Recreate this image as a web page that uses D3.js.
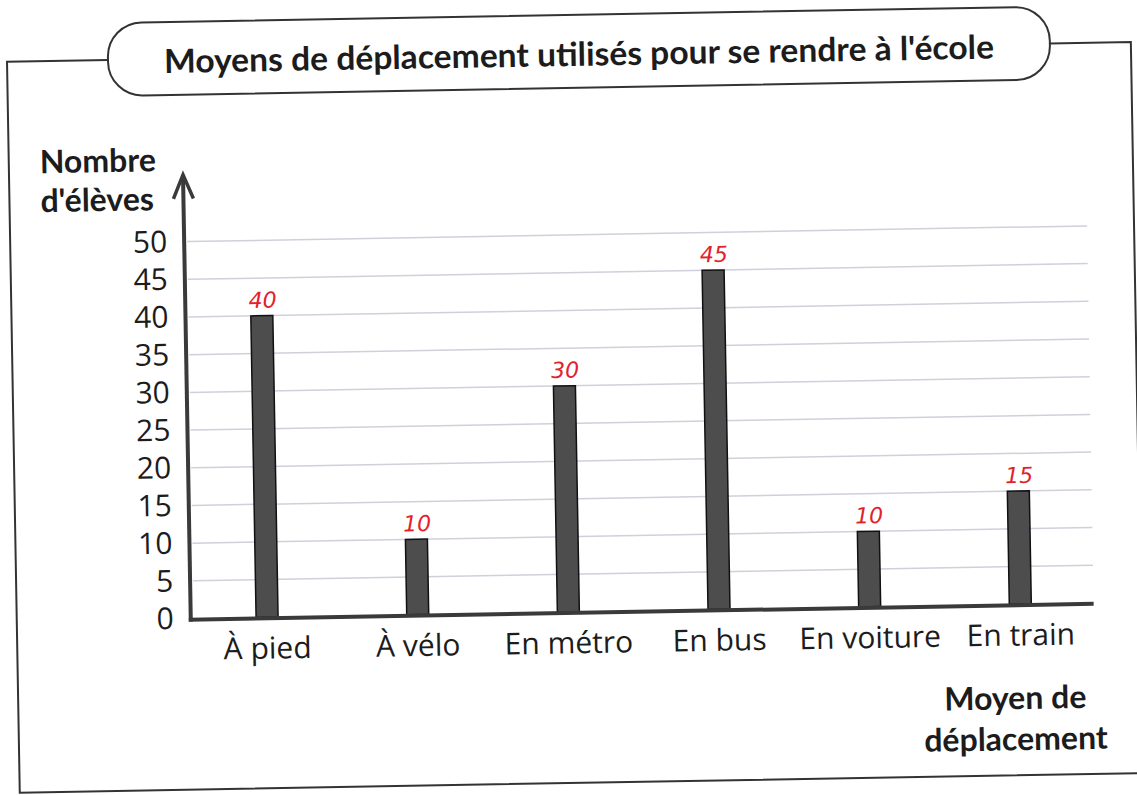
<!DOCTYPE html>
<html lang="fr">
<head>
<meta charset="utf-8">
<title>Moyens de déplacement</title>
<script src="https://d3js.org/d3.v7.min.js"></script>
<style>
  html, body { margin: 0; padding: 0; background: #fff; }
  svg { display: block; }
</style>
</head>
<body>
<div id="chart"></div>
<script>
// data
const categories = ["À pied", "À vélo", "En métro", "En bus", "En voiture", "En train"];
const values = [40, 10, 30, 45, 10, 15];
const yTicks = [0, 5, 10, 15, 20, 25, 30, 35, 40, 45, 50];
const title = "Moyens de déplacement utilisés pour se rendre à l'école";
const yTitle = ["Nombre", "d'élèves"];
const xTitle = ["Moyen de", "déplacement"];

const W = 1137, H = 795;
const ink = "#1c1c1c";

const svg = d3.select("#chart").append("svg")
    .attr("width", W).attr("height", H);

// the scan is tilted by about one degree
const g = svg.append("g").attr("transform", "rotate(-1, 568, 400)");

// outer frame + title box
const frame = g.append("g").attr("fill", "none").attr("stroke", "#333").attr("stroke-width", 2);
frame.append("path").attr("d", "M114,52 H13 V783 H1150");
frame.append("path").attr("d", "M1056,52 H1137 V800");
frame.append("rect")
    .attr("x", 114).attr("y", 15).attr("width", 942).attr("height", 73)
    .attr("rx", 34).attr("ry", 34);

// title, squeezed a bit like the condensed print font
g.append("text")
    .attr("x", 585).attr("y", 66)
    .attr("text-anchor", "middle")
    .attr("font-family", "Lato, 'Open Sans', sans-serif")
    .attr("font-weight", "bold")
    .attr("font-size", 33)
    .attr("textLength", 830)
    .attr("lengthAdjust", "spacingAndGlyphs")
    .attr("fill", ink)
    .text(title);

// scales
const x = d3.scaleBand().domain(categories).range([188, 1092]);
const y = d3.scaleLinear().domain([0, 50]).range([612, 235]);
const barW = 22;

// grid lines
g.append("g").selectAll("line")
  .data(yTicks.filter(d => d > 0))
  .join("line")
    .attr("x1", 190).attr("x2", 1090)
    .attr("y1", d => y(d)).attr("y2", d => y(d))
    .attr("stroke", "#cfd0dc").attr("stroke-width", 1.5);

// y axis tick labels
const yAxis = g.append("g")
    .attr("transform", "translate(187,0)")
    .call(d3.axisLeft(y).tickValues(yTicks).tickSize(0).tickPadding(17));
yAxis.select(".domain").remove();
yAxis.selectAll("text")
    .attr("font-family", "'Open Sans', sans-serif")
    .attr("font-size", 30)
    .attr("fill", ink);

// bars
g.append("g").selectAll("rect")
  .data(values)
  .join("rect")
    .attr("x", (d, i) => x(categories[i]) + x.bandwidth() / 2 - barW / 2)
    .attr("y", d => y(d))
    .attr("width", barW)
    .attr("height", d => y(0) - y(d))
    .attr("fill", "#4d4d4d")
    .attr("stroke", "#111")
    .attr("stroke-width", 1.5);

// handwritten values in red
g.append("g").selectAll("text")
  .data(values)
  .join("text")
    .attr("x", (d, i) => x(categories[i]) + x.bandwidth() / 2 + 1)
    .attr("y", d => y(d) - 8)
    .attr("text-anchor", "middle")
    .attr("font-family", "'DejaVu Sans', sans-serif")
    .attr("font-style", "italic")
    .attr("font-size", 22)
    .attr("fill", "#e3212b")
    .text(d => d);

// axes lines
const axisCol = "#3a3a3a";
g.append("line")
    .attr("x1", 185).attr("x2", 1090)
    .attr("y1", y(0) + 1).attr("y2", y(0) + 1)
    .attr("stroke", axisCol).attr("stroke-width", 4);
g.append("line")
    .attr("x1", 187).attr("x2", 187)
    .attr("y1", y(0) + 3).attr("y2", 168)
    .attr("stroke", axisCol).attr("stroke-width", 4);
g.append("path")
    .attr("d", "M177,192 L187,168 L197,192")
    .attr("fill", "none").attr("stroke", axisCol)
    .attr("stroke-width", 3.5).attr("stroke-linejoin", "miter");

// x category labels
const xAxis = g.append("g")
    .attr("transform", `translate(0,${y(0)})`)
    .call(d3.axisBottom(x).tickSize(0).tickPadding(20));
xAxis.select(".domain").remove();
xAxis.selectAll("text")
    .attr("font-family", "'Open Sans', sans-serif")
    .attr("font-size", 30)
    .attr("fill", ink);

// axis titles
const bold = sel => sel
    .attr("font-family", "Lato, 'Open Sans', sans-serif")
    .attr("font-weight", "bold")
    .attr("font-size", 32)
    .attr("fill", ink);

g.append("g").selectAll("text")
  .data(yTitle)
  .join("text")
    .attr("x", 44)
    .attr("y", (d, i) => 164 + i * 39)
    .text(d => d)
    .call(bold);

g.append("g").selectAll("text")
  .data(xTitle)
  .join("text")
    .attr("x", 1010)
    .attr("y", (d, i) => 717 + i * 41)
    .attr("text-anchor", "middle")
    .text(d => d)
    .call(bold);
</script>
</body>
</html>
